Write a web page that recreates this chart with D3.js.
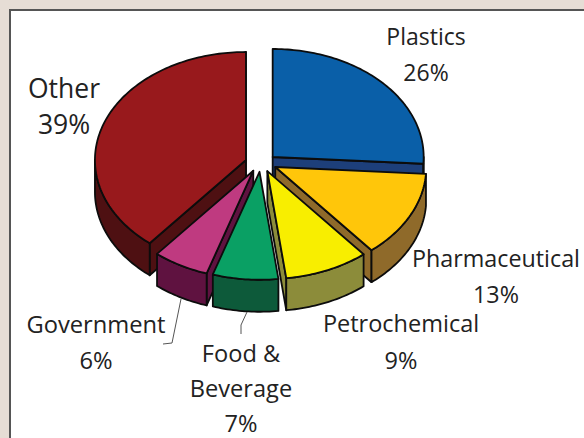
<!DOCTYPE html>
<html>
<head>
<meta charset="utf-8">
<script src="https://cdnjs.cloudflare.com/ajax/libs/d3/7.8.5/d3.min.js"></script>
<style>
  html, body { margin: 0; padding: 0; background: #e6ddd5; }
  svg { display: block; }
  text { font-family: "Open Sans", sans-serif; fill: #222; text-anchor: middle; }
</style>
</head>
<body>
<script>
'use strict';
// data, clockwise from 12 o'clock
const categories = ['Plastics', 'Pharmaceutical', 'Petrochemical', 'Food & Beverage', 'Government', 'Other'];
const shares = [26, 13, 9, 7, 6, 39];
const topColors = ['#0a5fa8', '#ffc60a', '#f8ee00', '#0aa064', '#bf3a80', '#98191c'];
const wallColors = ['#1d3f7a', '#8f6a2a', '#8c8c3a', '#0d5a3a', '#5f1240', '#4e1012'];

// label placement: one baseline per line, the last line is the percentage
const labelX = [426, 496, 401, 241, 96, 64];
const labelSize = [23, 23.3, 23.5, 23.6, 23.7, 26.5];
const labelLines = [['Plastics'], ['Pharmaceutical'], ['Petrochemical'], ['Food &', 'Beverage'], ['Government'], ['Other']];
const labelY = [[45, 81], [267, 303], [332, 369], [362, 397, 432], [333, 369], [98, 134]];
const leaders = [
  [[181, 299], [172, 343], [163, 344]],
  [[247, 312], [241, 325], [241, 334]]
];

const width = 584, height = 438;
const cx = 261, cy = 163;  // pie centre before explode
const rx = 151, ry = 108;  // ellipse of the tilted pie
const depth = 32;          // height of the walls
const explodeX = 16, explodeY = 8.8;

const svg = d3.select(document.body).append('svg')
  .attr('width', width).attr('height', height);

drawFrame(svg);
drawPie(svg);
drawLabels(svg);

function drawFrame(object){
  object.append('rect')
    .attr('x', 10).attr('y', 10)
    .attr('width', width).attr('height', height)
    .attr('fill', '#fff')
    .attr('stroke', '#555')
    .attr('stroke-width', 2);
}

// angle is measured clockwise from the top, like d3.pie
function onEllipse(c, a, dy){
  return [c[0] + rx * Math.sin(a), c[1] - ry * Math.cos(a) + dy];
}

function arcPoints(c, a0, a1, dy){
  const n = Math.max(2, Math.ceil(Math.abs(a1 - a0) / 0.02));
  return d3.range(n + 1).map(function(i){
    return onEllipse(c, a0 + (a1 - a0) * i / n, dy);
  });
}

function drawPie(object){
  const arcs = d3.pie().sort(null)(shares).map(function(d, i){
    const mid = (d.startAngle + d.endAngle) / 2;
    return {
      a0: d.startAngle,
      a1: d.endAngle,
      mid: mid,
      top: topColors[i],
      wall: wallColors[i],
      c: [cx + explodeX * Math.sin(mid), cy - explodeY * Math.cos(mid)]
    };
  });

  // back slices first, so the front ones cover them
  const ordered = arcs.slice().sort(function(a, b){ return Math.cos(b.mid) - Math.cos(a.mid); });
  const line = d3.line();
  const g = object.append('g')
    .attr('stroke', '#0c0c0c')
    .attr('stroke-width', 1.8)
    .attr('stroke-linejoin', 'round');

  ordered.forEach(function(s){
    // cut faces: only those turned to the viewer
    [[s.a1, Math.sin(s.a1) > 0], [s.a0, Math.sin(s.a0) < 0]].forEach(function(face){
      if (!face[1]) return;
      const rim = onEllipse(s.c, face[0], 0);
      g.append('path')
        .attr('fill', s.wall)
        .attr('d', line([s.c, rim, [rim[0], rim[1] + depth], [s.c[0], s.c[1] + depth]]) + 'Z');
    });
    // outer wall: only the front half of the rim
    const w0 = Math.max(s.a0, Math.PI / 2);
    const w1 = Math.min(s.a1, Math.PI * 1.5);
    if (w1 > w0) {
      const pts = arcPoints(s.c, w0, w1, 0).concat(arcPoints(s.c, w1, w0, depth));
      g.append('path').attr('fill', s.wall).attr('d', line(pts) + 'Z');
    }
    // top
    g.append('path')
      .attr('fill', s.top)
      .attr('d', line([s.c].concat(arcPoints(s.c, s.a0, s.a1, 0))) + 'Z');
  });
}

function drawLabels(object){
  const line = d3.line().curve(d3.curveLinear);
  object.append('g').selectAll('path').data(leaders).enter()
    .append('path')
    .attr('d', function(d){ return line(d); })
    .attr('fill', 'none')
    .attr('stroke', '#555')
    .attr('stroke-width', 1);

  categories.forEach(function(name, i){
    const rows = labelLines[i].concat(shares[i] + '%');
    object.append('g').selectAll('text').data(rows).enter()
      .append('text')
      .attr('x', labelX[i])
      .attr('y', function(d, j){ return labelY[i][j]; })
      .attr('font-size', labelSize[i])
      .text(function(d){ return d; });
  });
}
</script>
</body>
</html>
